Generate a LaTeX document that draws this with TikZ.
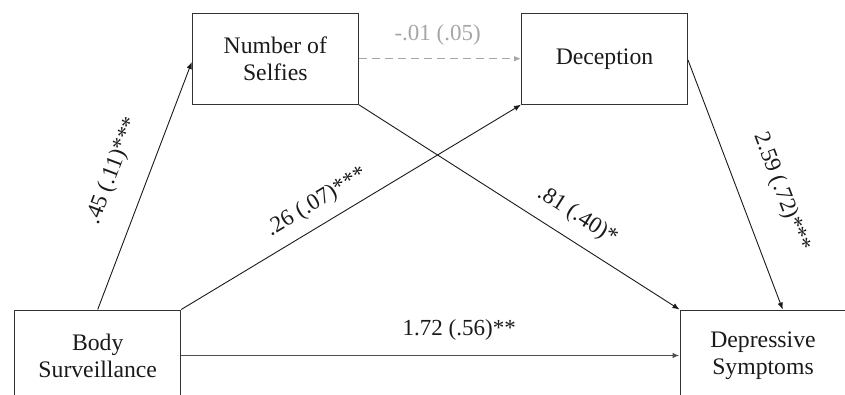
\documentclass[tikz,border=0pt]{standalone}
\usepackage{fontspec}
\setmainfont{Liberation Serif}
\usetikzlibrary{arrows.meta}
\definecolor{boxline}{HTML}{333333}
\definecolor{ink}{HTML}{1A1A1A}
\definecolor{faint}{HTML}{A6A6A6}
\definecolor{midgray}{HTML}{4D4D4D}
\begin{document}
\begin{tikzpicture}[x=1pt,y=-1pt,
  var/.style={draw=boxline, line width=1pt, minimum width=166pt, minimum height=91pt,
    inner sep=0pt, align=center, text=ink, font=\fontsize{23.7}{27}\selectfont},
  link/.style={draw=ink, line width=0.9pt, -{Latex[length=7pt,width=5.5pt]}},
  coef/.style={font=\fontsize{23}{26}\selectfont, text=ink, inner sep=0pt, sloped}
]
\useasboundingbox (0,0) rectangle (845,394);
\clip (0,0) rectangle (845,394);

\node[var] (selfies) at (275.3,58.7) {Number of\\Selfies};
\node[var] (decep) at (604.5,58.7) {Deception};
\node[var] (body) at (97.7,355.5) {Body\\Surveillance};
\node[var] (dep) at (763,355.5) {Depressive\\Symptoms};

\draw[link] (body.north) -- ([yshift=-3.3pt]selfies.west)
  node[coef, pos=0.51, above=24pt] {.45 (.11)***};
\draw[link] (body.north east) -- (decep.south west)
  node[coef, pos=0.432, above=11pt] {.26 (.07)***};
\draw[link] (selfies.south east) -- (dep.north west)
  node[coef, pos=0.641, above=13pt] {.81 (.40)*};
\draw[link] ([yshift=-1.3pt]decep.east) -- ([xshift=19.7pt]dep.north)
  node[coef, pos=0.588, above=30pt] {2.59 (.72)***};
\draw[link, draw=midgray, line width=1.4pt] (body.east) -- (dep.west)
  node[coef, pos=0.558, above=14.5pt] {1.72 (.56)**};
\draw[link, draw=faint, dash pattern=on 8pt off 5pt, line width=1pt] (selfies.east) -- (decep.west)
  node[coef, text=faint, pos=0.486, above=13pt] {-.01 (.05)};
\end{tikzpicture}
\end{document}
